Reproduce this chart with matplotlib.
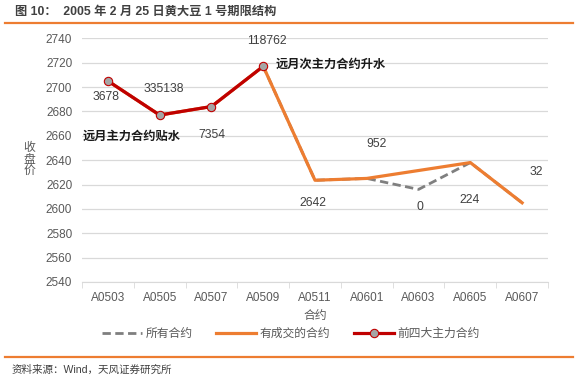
import matplotlib

matplotlib.use("Agg")

import matplotlib.pyplot as plt
import numpy as np

plt.rcParams["font.family"] = ["Liberation Sans", "Noto Sans CJK SC", "DejaVu Sans"]

contracts = ["A0503", "A0505", "A0507", "A0509", "A0511", "A0601", "A0603", "A0605", "A0607"]
all_close = [2705, 2677, 2684, 2717, 2623.5, 2625, 2616, 2638, 2605]
traded_close = [2705, 2677, 2684, 2717, 2623.5, 2625, np.nan, 2638, 2605]
top4_close = [2705, 2677, 2684, 2717]
volumes = ["3678", "335138", "7354", "118762", "2642", "952", "0", "224", "32"]

# label offsets in pixels (dx, dy up) relative to each point
LABEL_OFFSETS = [(-2, -16), (4, 26), (0, -28), (4, 25), (-2, -23),
                 (10, 34), (1, -18), (-1, -37), (14, 31)]

W, H = 582, 382
fig = plt.figure(figsize=(W / 100, H / 100), dpi=100)
ax = fig.add_axes([82 / W, 1 - 282 / H, (548 - 82) / W, (282 - 38.3) / H])

x = np.arange(len(contracts))
ax.plot(x, all_close, color="#7F7F7F", lw=2.0, ls=(0, (3, 1.6)), label="所有合约", zorder=2)
traded = np.asarray(traded_close, dtype=float)
ok = np.isfinite(traded)
ax.plot(x[ok], traded[ok], color="#ED7D31", lw=2.3, label="有成交的合约", zorder=3)
ax.plot(x[:len(top4_close)], top4_close, color="#C00000", lw=2.3, marker="o",
        markersize=6, markerfacecolor="#A5A5A5", markeredgecolor="#C00000",
        markeredgewidth=0.8, label="前四大主力合约", zorder=4)

for i, (text, (dx, dy)) in enumerate(zip(volumes, LABEL_OFFSETS)):
    ax.annotate(text, (x[i], all_close[i]), xytext=(dx * 0.72, dy * 0.72),
                textcoords="offset points", ha="center", va="center",
                fontsize=8.7, color="#404040")

ax.text(-0.48, 2659, "远月主力合约贴水", fontsize=8.8, fontweight="bold",
        color="#1a1a1a", ha="left", va="center")
ax.text(3.245, 2718, "远月次主力合约升水", fontsize=8.8, fontweight="bold",
        color="#1a1a1a", ha="left", va="center")

ax.set_xlim(-0.5, len(contracts) - 0.5)
ax.set_ylim(2540, 2740)
ax.set_yticks(np.arange(2540, 2741, 20))
ax.set_xticks(x)
ax.set_xticklabels(contracts)
ax.set_xticks(np.arange(-0.5, len(contracts), 1), minor=True)
ax.tick_params(axis="x", which="major", length=0, pad=7, labelsize=8.5, labelcolor="#595959")
ax.tick_params(axis="x", which="minor", length=4, color="#D9D9D9")
ax.tick_params(axis="y", length=0, pad=7, labelsize=8.5, labelcolor="#595959")
ax.grid(axis="y", color="#D9D9D9", lw=0.9)
ax.set_axisbelow(True)
for side in ("top", "right", "left"):
    ax.spines[side].set_visible(False)
ax.spines["bottom"].set_color("#D9D9D9")

fig.text(315 / W, 1 - 316 / H, "合约", ha="center", va="center", fontsize=8.5, color="#595959")
fig.text(29 / W, 1 - 160 / H, "收\n盘\n价", ha="center", va="center", fontsize=8.5,
         color="#595959", linespacing=0.95)

fig.legend(loc="center", bbox_to_anchor=(291 / W, 1 - 334 / H), ncol=3, frameon=False,
           fontsize=8.5, labelcolor="#595959", handlelength=3.4, handletextpad=0.3,
           columnspacing=2.0)

fig.text(15 / W, 1 - 12 / H, "图 10：  2005 年 2 月 25 日黄大豆 1 号期限结构", fontsize=8.8,
         fontweight="bold", color="#404040", ha="left", va="center")
fig.add_artist(plt.Line2D([5 / W, 573 / W], [1 - 22.7 / H] * 2, color="#ED7D31", lw=1.6))
fig.add_artist(plt.Line2D([5 / W, 573 / W], [1 - 356.7 / H] * 2, color="#ED7D31", lw=1.6))
fig.text(12 / W, 1 - 370 / H, "资料来源：Wind，天风证券研究所", fontsize=7.6,
         color="#404040", ha="left", va="center")

fig.savefig("out.png", dpi=100, facecolor="white")
